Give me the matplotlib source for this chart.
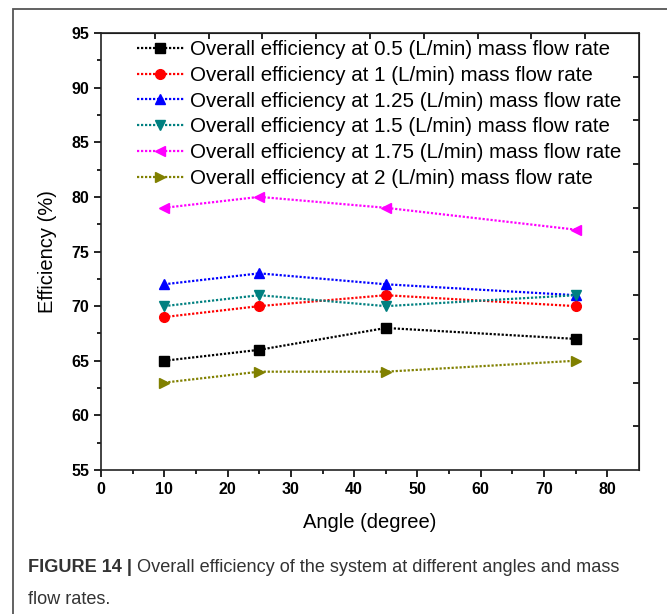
import matplotlib
matplotlib.use('Agg')
import matplotlib.pyplot as plt
from matplotlib.patches import Rectangle

plt.rcParams['font.family'] = ['Liberation Sans', 'DejaVu Sans']

angles = [10, 25, 45, 75]
eff_05 = [65, 66, 68, 67]
eff_1 = [69, 70, 71, 70]
eff_125 = [72, 73, 72, 71]
eff_15 = [70, 71, 70, 71]
eff_175 = [79, 80, 79, 77]
eff_2 = [63, 64, 64, 65]

series = [
    (eff_05, 'Overall efficiency at 0.5 (L/min) mass flow rate', 'black', 's'),
    (eff_1, 'Overall efficiency at 1 (L/min) mass flow rate', 'red', 'o'),
    (eff_125, 'Overall efficiency at 1.25 (L/min) mass flow rate', 'blue', '^'),
    (eff_15, 'Overall efficiency at 1.5 (L/min) mass flow rate', '#008080', 'v'),
    (eff_175, 'Overall efficiency at 1.75 (L/min) mass flow rate', 'magenta', '<'),
    (eff_2, 'Overall efficiency at 2 (L/min) mass flow rate', '#808000', '>'),
]

W, H = 667, 614
fig = plt.figure(figsize=(W/100, H/100), dpi=100)
ax = fig.add_axes([101/W, 1-470/H, 538/W, 437/H])

for vals, lab, col, mk in series:
    ax.plot(angles, vals, linestyle=(0, (1, 0.8)), linewidth=1.6, color=col,
            marker=mk, markersize=7, label=lab)

ax.set_xlim(0, 85)
ax.set_ylim(55, 95)
ax.set_xticks(range(0, 81, 10))
ax.set_xticks(range(5, 85, 10), minor=True)
ax.set_yticks(range(55, 96, 5))
ax.set_yticks([57.5 + 5*i for i in range(8)], minor=True)
ax.tick_params(which='major', direction='out', length=5, width=1.2, labelsize=11.5)
ax.tick_params(which='minor', direction='out', length=3, width=1.2)
for t in ax.get_xticklabels() + ax.get_yticklabels():
    t.set_fontweight('bold')
for s in ax.spines.values():
    s.set_linewidth(1.2)
    s.set_color('#222222')

# mirrored axes with inward ticks, like the Origin original
top = ax.secondary_xaxis('top')
top.set_xticks([8.5*i for i in range(1, 10)])
top.tick_params(direction='in', length=4, width=1.2, labeltop=False)
right = ax.secondary_yaxis('right')
right.set_yticks([55 + 4*i for i in range(1, 10)])
right.tick_params(direction='in', length=4, width=1.2, labelright=False)

ax.set_xlabel('Angle (degree)', fontsize=14.5, labelpad=12)
ax.set_ylabel('Efficiency (%)', fontsize=14.5, labelpad=10)

ax.legend(loc='upper left', bbox_to_anchor=(0.066, 0.984), frameon=False,
          fontsize=14.8, handlelength=2.3, handletextpad=0.3, labelspacing=0.33,
          borderaxespad=0, borderpad=0)

# outer frame of the figure panel
fig.patches.append(Rectangle((13/W, -0.1), 1.2, 1 - 9/H + 0.1, transform=fig.transFigure,
                             fill=False, edgecolor='#555555', linewidth=1.3))

# caption
t1 = fig.text(28/W, 1-568/H, 'FIGURE 14 |', fontsize=13.1, fontweight='bold',
              color='#333333', va='center')
fig.canvas.draw()
bb = t1.get_window_extent()
fig.text((bb.x1 + 5)/W, 1-568/H,
         'Overall efficiency of the system at different angles and mass',
         fontsize=13.1, color='#333333', va='center')
fig.text(28/W, 1-600/H, 'flow rates.', fontsize=13.1,
         color='#333333', va='center')

fig.savefig('out.png', dpi=100)
